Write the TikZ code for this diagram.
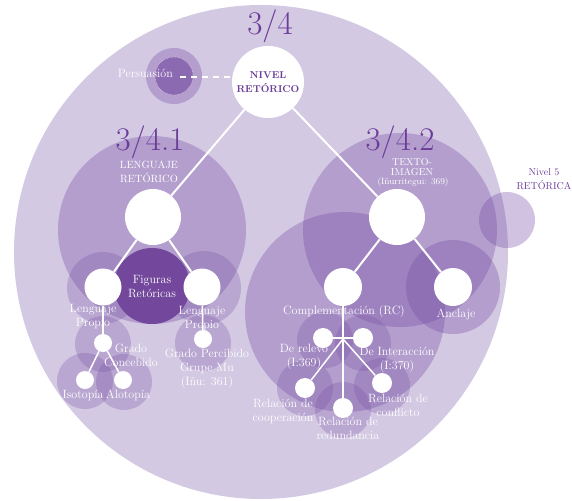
\documentclass[tikz,border=0pt]{standalone}
\usepackage{fontspec}
\definecolor{pp}{RGB}{120,80,165}
\definecolor{bgc}{RGB}{211,201,227}
\definecolor{txp}{RGB}{107,61,153}
\definecolor{dk}{RGB}{114,71,156}
\definecolor{persin}{RGB}{140,106,178}
\begin{document}
\begin{tikzpicture}[x=1pt,y=-1pt,
  disc/.style={fill=pp, fill opacity=0.35},
  sdisc/.style={fill=pp, fill opacity=0.28},
  wnode/.style={circle, fill=white, inner sep=0pt, minimum size=#1},
  wl/.style={white, line width=2pt},
  ws/.style={white, line width=1.5pt},
  lab/.style={text=white, align=center, inner sep=0pt, font=\fontsize{12}{14}\selectfont},
  big/.style={text=txp, inner sep=0pt, font=\fontsize{33}{34}\selectfont},
  ptext/.style={text=txp, align=center, inner sep=0pt, font=\fontsize{10}{13.5}\selectfont}]
\useasboundingbox (0,0) rectangle (572,500);
% background discs
\fill[bgc] (261,252) circle (247pt);
\fill[disc] (152,230) circle (94pt);
\fill[disc] (400,230) circle (97pt);
\fill[disc] (345,312) circle (100pt);
\fill[disc] (453,287) circle (47pt);
\fill[disc] (507,220) circle (28pt);
\fill[disc] (174,76) circle (28pt);
\fill[persin] (174,76) circle (19pt);
\draw[white, densely dotted, line width=0.4pt] (174,76) circle (19pt);
% small discs left
\fill[sdisc] (103,288) circle (36pt);
\fill[sdisc] (204,288) circle (37pt);
\fill[sdisc] (103,344) circle (28pt);
\fill[sdisc] (85,381) circle (28pt);
\fill[sdisc] (124,382) circle (28pt);
\fill[sdisc] (203,343) circle (28pt);
% small discs right
\fill[sdisc] (325,340) circle (28pt);
\fill[sdisc] (363,343) circle (28pt);
\fill[sdisc] (305,388) circle (28pt);
\fill[sdisc] (343,410) circle (28pt);
\fill[sdisc] (382,386) circle (28pt);
% figuras
\fill[dk] (152,286) circle (38pt);
% nodes
\node[wnode=72pt, align=center, text=txp, font=\bfseries\fontsize{10}{13.5}\selectfont] (niv) at (268,82) {NIVEL\\RETÓRICO};
\node[wnode=56pt] (len) at (153,217) {};
\node[wnode=56pt] (tex) at (397,217) {};
\node[wnode=37pt] (lp1) at (103,287) {};
\node[wnode=37pt] (lp2) at (202,287) {};
\node[wnode=18pt] (gc) at (103,343) {};
\node[wnode=18pt] (iso) at (85,380) {};
\node[wnode=18pt] (alo) at (123,380) {};
\node[wnode=18pt] (gp) at (203,339) {};
\node[wnode=38pt] (comp) at (343,287) {};
\node[wnode=38pt] (anc) at (453,287) {};
\node[wnode=20pt] (rel) at (323,338) {};
\node[wnode=20pt] (int) at (363,338) {};
\node[wnode=20pt] (coop) at (305,388) {};
\node[wnode=20pt] (red) at (343,408) {};
\node[wnode=20pt] (conf) at (382,383) {};
\coordinate (jn) at (343,339);
\coordinate (pd) at (180,77);
% connectors
\draw[wl] (niv) -- (len);
\draw[wl] (niv) -- (tex);
\draw[wl] (len) -- (lp1);
\draw[wl] (len) -- (lp2);
\draw[wl] (tex) -- (comp);
\draw[wl] (tex) -- (anc);
\draw[ws] (lp1) -- (gc);
\draw[ws] (gc) -- (iso);
\draw[ws] (gc) -- (alo);
\draw[ws] (lp2) -- (gp);
\draw[ws] (comp) -- (red);
\draw[ws] (rel) -- (int);
\draw[ws] (jn) -- (coop);
\draw[ws] (jn) -- (conf);
\draw[white, line width=1.3pt, dash pattern=on 6pt off 5pt] (pd) -- (pd -| niv.west);
% titles
\node[big] (t34) at (270,26) {3/4};
\node[big] (t341) at (150,142) {3/4.1};
\node[big] (t342) at (400,142) {3/4.2};
% labels
\node[lab, anchor=east, font=\fontsize{12}{14}\selectfont] (lpers) at (173,73) {Persuasión};
\node[lab, font=\fontsize{10.5}{14}\selectfont] (llen) at (149,172) {LENGUAJE\\RETÓRICO};
\node[lab, font=\fontsize{10}{10}\selectfont] (ltex) at (412,167) {TEXTO-\\IMAGEN};
\node[lab, font=\fontsize{9}{10}\selectfont] (linu) at (413,182) {(Iñurritegui: 369)};
\node[lab] (lfig) at (152,287) {Figuras\\Retóricas};
\node[lab] (llp1) at (93,317) {Lenguaje\\Propio};
\node[lab] (llp2) at (202,319) {Lenguaje\\Propio};
\node[lab] (lgc) at (131,355) {Grado\\Concebido};
\node[lab] (liso) at (83,395) {Isotopía};
\node[lab] (lalo) at (128,395) {Alotopía};
\node[lab] (lgp) at (207,369) {Grado Percibido\\Grupe Mu\\(Iñu: 361)};
\node[lab] (lcomp) at (344,312) {Complementación (RC)};
\node[lab] (lanc) at (456,314) {Anclaje};
\node[lab] (lrel) at (304,357) {De relevo\\(I:369)};
\node[lab] (lint) at (397,360) {De Interacción\\(I:370)};
\node[lab] (lcoop) at (283,411) {Relación de\\cooperación};
\node[lab] (lred) at (348,428) {Relación de\\redundancia};
\node[lab] (lconf) at (398,405) {Relación de\\conflicto};
\node[ptext] (lniv5) at (544,179) {Nivel 5\\RETÓRICA};
\end{tikzpicture}
\end{document}
